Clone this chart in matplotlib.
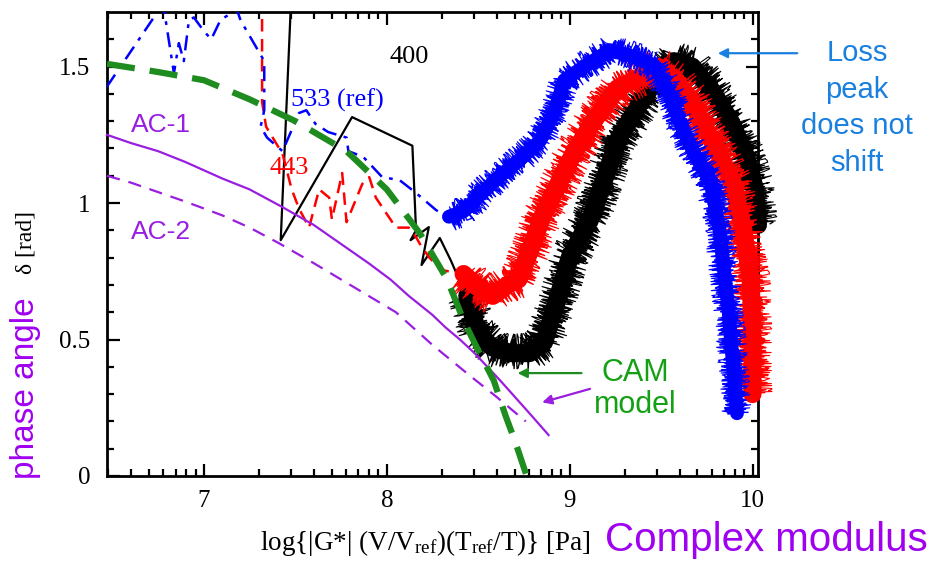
import matplotlib
matplotlib.use("Agg")
import matplotlib.pyplot as plt
import numpy as np

plt.rcParams['font.family'] = ['Liberation Serif', 'DejaVu Serif']
plt.rcParams['mathtext.fontset'] = 'custom'
plt.rcParams['mathtext.rm'] = 'Liberation Serif'
plt.rcParams['mathtext.it'] = 'Liberation Serif:italic'

# --- model curves ---
cam_x = [6.47, 6.75, 7.0, 7.25, 7.5, 7.78, 8.0, 8.18, 8.33, 8.42, 8.50, 8.585, 8.65, 8.70, 8.765]
cam_y = [1.51, 1.48, 1.45, 1.38, 1.30, 1.19, 1.05, 0.89, 0.72, 0.57, 0.46, 0.35, 0.22, 0.13, 0.0]

ac1_x = [6.47, 6.6, 6.75, 6.9, 7.0, 7.1, 7.25, 7.43, 7.6, 7.75, 7.9, 8.02, 8.12, 8.25,
         8.32, 8.40, 8.48, 8.55, 8.62, 8.70, 8.78, 8.885]
ac1_y = [1.25, 1.22, 1.19, 1.15, 1.12, 1.09, 1.05, 0.985, 0.92, 0.85, 0.78, 0.72, 0.66, 0.59,
         0.545, 0.50, 0.45, 0.40, 0.35, 0.29, 0.23, 0.15]

ac2_x = [6.47, 6.6, 6.75, 6.9, 7.0, 7.1, 7.25, 7.41, 7.6, 7.75, 7.9, 8.05, 8.15, 8.25,
         8.35, 8.45, 8.6, 8.76]
ac2_y = [1.10, 1.075, 1.04, 1.005, 0.98, 0.955, 0.91, 0.853, 0.78, 0.72, 0.66, 0.60, 0.54,
         0.48, 0.425, 0.37, 0.29, 0.20]

# --- measured data, 533 K (ref) ---
t533_x = [6.468, 6.726, 6.77, 6.836, 6.863, 6.89, 6.918, 6.945, 7.0, 7.04, 7.09, 7.18,
          7.20, 7.33, 7.33, 7.31, 7.345, 7.43, 7.52, 7.56, 7.61, 7.68, 7.78, 7.79, 7.87,
          7.975, 8.07, 8.16, 8.27, 8.34]
t533_y = [1.425, 1.68, 1.76, 1.476, 1.586, 1.52, 1.67, 1.68, 1.63, 1.60, 1.67, 1.71,
          1.67, 1.52, 1.34, 1.28, 1.24, 1.19, 1.33, 1.34, 1.29, 1.26, 1.24, 1.19, 1.17,
          1.095, 1.084, 1.037, 0.974, 0.949]
t533_band_x = [8.34, 8.42, 8.51, 8.62, 8.73, 8.84, 8.92, 8.97, 9.08, 9.22, 9.33, 9.41,
               9.47, 9.54, 9.60, 9.69, 9.77, 9.82, 9.87, 9.915]
t533_band_y = [0.95, 0.97, 1.03, 1.10, 1.16, 1.23, 1.34, 1.45, 1.50, 1.56, 1.54, 1.52,
               1.50, 1.41, 1.30, 1.17, 1.08, 0.90, 0.60, 0.23]

# --- measured data, 443 K ---
t443_x = [7.318, 7.318, 7.34, 7.43, 7.48, 7.52, 7.575, 7.63, 7.685, 7.70, 7.756, 7.78,
          7.866, 7.904, 7.94, 8.01, 8.05, 8.12, 8.16, 8.19, 8.233, 8.30, 8.38, 8.42]
t443_y = [1.75, 1.37, 1.28, 1.18, 1.05, 0.98, 0.91, 1.05, 1.02, 0.94, 1.11, 0.93,
          1.07, 1.095, 1.02, 0.95, 0.91, 0.91, 0.875, 0.84, 0.80, 0.755, 0.744, 0.74]
t443_band_x = [8.42, 8.50, 8.58, 8.66, 8.72, 8.78, 8.85, 8.93, 9.02, 9.13, 9.26, 9.38,
               9.48, 9.58, 9.66, 9.72, 9.80, 9.89, 9.95, 9.99, 10.0, 10.0]
t443_band_y = [0.74, 0.69, 0.66, 0.70, 0.72, 0.82, 0.95, 1.06, 1.18, 1.30, 1.42, 1.46,
               1.50, 1.45, 1.38, 1.30, 1.20, 1.08, 0.90, 0.72, 0.50, 0.30]

# --- measured data, 400 K ---
t400_x = [7.477, 7.42, 7.81, 8.14, 8.16, 8.13, 8.23, 8.19, 8.29, 8.35, 8.38, 8.42, 8.44]
t400_y = [1.75, 0.864, 1.315, 1.21, 0.90, 0.864, 0.912, 0.773, 0.872, 0.79, 0.744, 0.73, 0.656]
t400_band_x = [8.44, 8.50, 8.58, 8.68, 8.78, 8.86, 8.93, 9.0, 9.12, 9.175, 9.27, 9.38,
               9.48, 9.57, 9.67, 9.77, 9.88, 9.96, 10.01, 10.03]
t400_band_y = [0.66, 0.52, 0.47, 0.45, 0.45, 0.49, 0.64, 0.80, 0.95, 1.06, 1.24, 1.36,
               1.46, 1.52, 1.50, 1.42, 1.30, 1.18, 1.06, 0.92]

purple = '#9a1ee0'
green = '#1e8c1e'

fig = plt.figure(figsize=(9.35, 5.66), dpi=100)
ax = fig.add_axes([107 / 935, 1 - 476 / 566, 651 / 935, 464 / 566])


def noisy_band(x, y, color, lw, z):
    # thick trace plus a hairy outline for the densely sampled region
    ax.plot(x, y, color=color, lw=lw, solid_joinstyle='round', solid_capstyle='round',
            zorder=z, clip_on=False)
    for s, ln, w in [(lw * 1.5, 1.2, 0.8), (lw * 1.2, 2.0, 1.0), (lw * 0.9, 3.0, 1.2)]:
        hair, = ax.plot(x, y, color=color, lw=w, zorder=z, clip_on=False)
        hair.set_sketch_params(s, ln, 8)


noisy_band(t400_band_x, t400_band_y, 'black', 13, 3)
noisy_band(t443_band_x, t443_band_y, '#ff0000', 13, 4)
noisy_band(t533_band_x, t533_band_y, '#0000ff', 10, 5)

ax.plot(t400_x, t400_y, color='black', lw=1.6, zorder=3)
ax.plot(t443_x, t443_y, color='#ff0000', lw=1.8, ls=(0, (5, 3)), zorder=4)
ax.plot(t533_x, t533_y, color='#0000ff', lw=1.8, ls=(0, (6, 3, 1.5, 3)), zorder=5)

ax.plot(ac1_x, ac1_y, color=purple, lw=1.6, zorder=6, clip_on=False)
ax.plot(ac2_x, ac2_y, color=purple, lw=1.6, ls=(0, (6, 4)), zorder=6, clip_on=False)
ax.plot(cam_x, cam_y, color=green, lw=4.5, ls=(0, (4.5, 2.4)), zorder=7)

ax.set_xlim(6.47, 10.03)
ax.set_ylim(0, 1.70)
ax.set_xticks([7, 8, 9, 10])
ax.set_xticklabels(['7', '8', '9', '10'])
minor_x = [d + np.log10(k) for d in (6, 7, 8, 9) for k in range(2, 10)]
ax.set_xticks([m for m in minor_x if 6.47 < m < 10.03], minor=True)
ax.set_yticks([0, 0.5, 1.0, 1.5])
ax.set_yticklabels(['0', '0.5', '1', '1.5'])
ax.set_yticks(np.arange(0.1, 1.7, 0.1), minor=True)
ax.tick_params(which='both', direction='in', top=True, right=True, width=1.6,
               labelsize=18, color='black')
ax.tick_params(which='major', length=9)
ax.tick_params(which='minor', length=5)
ax.tick_params(axis='y', pad=12)
ax.tick_params(axis='x', pad=10)
for sp in ax.spines.values():
    sp.set_linewidth(2)

# curve labels
ax.text(8.12, 1.535, '400', fontsize=19, ha='center', va='center', color='black')
ax.text(7.73, 1.377, '533 (ref)', fontsize=19, ha='center', va='center', color='#0000ff')
ax.text(7.466, 1.128, '443', fontsize=19, ha='center', va='center', color='#ff0000')
ax.text(6.60, 1.286, 'AC-1', fontsize=19, ha='left', va='center', color=purple,
        family='Liberation Sans')
ax.text(6.60, 0.894, 'AC-2', fontsize=19, ha='left', va='center', color=purple,
        family='Liberation Sans')
ax.text(9.36, 0.32, 'CAM\nmodel', fontsize=22, ha='center', va='center', color='#14a014',
        family='Liberation Sans', linespacing=1.1)

ax.annotate('', xy=(8.70, 0.377), xytext=(9.08, 0.377), annotation_clip=False,
            arrowprops=dict(arrowstyle='-|>', color=green, lw=1.6, mutation_scale=14))
ax.annotate('', xy=(8.835, 0.267), xytext=(9.126, 0.322), annotation_clip=False,
            arrowprops=dict(arrowstyle='-|>', color=purple, lw=1.6, mutation_scale=14))
ax.annotate('', xy=(9.795, 1.549), xytext=(10.26, 1.549), annotation_clip=False,
            arrowprops=dict(arrowstyle='-|>', color='#1a80e0', lw=1.6, mutation_scale=14))

fig.text(857 / 935, 1 - 108 / 566, 'Loss\npeak\ndoes not\nshift', fontsize=21,
         ha='center', va='center', color='#1a80e0', family='Liberation Sans',
         linespacing=1.38)

fig.text(425 / 935, 1 - 543 / 566,
         r'log{|G*| (V/V$_{\rm ref}$)(T$_{\rm ref}$/T)} [Pa]',
         fontsize=19.5, ha='center', va='center')
fig.text(605 / 935, 1 - 540 / 566, 'Complex modulus', fontsize=29, ha='left',
         va='center', color='#a000f0', family='Liberation Sans')
fig.text(26 / 935, 1 - 243 / 566, r'δ [rad]', fontsize=17, rotation=90,
         ha='center', va='center')
fig.text(26 / 935, 1 - 388 / 566, 'phase angle', fontsize=24, rotation=90,
         ha='center', va='center', color='#a000f0', family='Liberation Sans')

fig.savefig('out.png', dpi=100)
